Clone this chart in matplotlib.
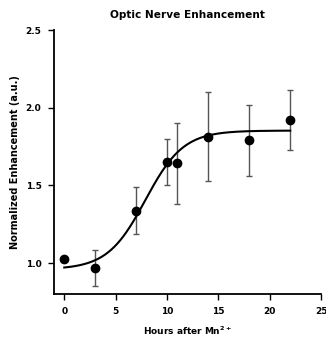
import numpy as np
import matplotlib
matplotlib.use("Agg")
import matplotlib.pyplot as plt

plt.rcParams['font.family'] = ['DejaVu Sans']

hours = [0, 3, 7, 10, 11, 14, 18, 22]
enhancement = [1.026, 0.968, 1.338, 1.650, 1.643, 1.814, 1.791, 1.921]
sem = [0.0, 0.117, 0.153, 0.146, 0.262, 0.286, 0.227, 0.190]

# Boltzmann sigmoid fit parameters
fit_bottom = 0.96
fit_top = 1.853
fit_v50 = 7.9
fit_slope = 1.85
fit_range = [0, 22]

title = "Optic Nerve Enhancement"
xlabel = "Hours after Mn$^{\\mathbf{2+}}$"
ylabel = "Normalized Enhancement (a.u.)"
xticks = [0, 5, 10, 15, 20, 25]
yticks = [1.0, 1.5, 2.0, 2.5]

fig = plt.figure(figsize=(3.26, 3.40), dpi=100)
ax = fig.add_axes([54/326, 1-294.3/340, (321-54)/326, (294.3-30)/340])

xf = np.linspace(fit_range[0], fit_range[1], 300)
yf = fit_bottom + (fit_top - fit_bottom) / (1 + np.exp((fit_v50 - xf) / fit_slope))
ax.plot(xf, yf, color='black', lw=1.5, zorder=2)

ax.errorbar(hours, enhancement, yerr=sem, fmt='none', ecolor='#555555',
            elinewidth=1.0, capsize=2, capthick=1.0, zorder=1)
ax.plot(hours, enhancement, 'o', color='black', markersize=6, zorder=3)

ax.set_xlim(-1, 25)
ax.set_ylim(0.8, 2.5)
ax.set_xticks(xticks)
ax.set_yticks(yticks)
ax.set_yticklabels([f"{v:.1f}" for v in yticks])
for s in ['top', 'right']:
    ax.spines[s].set_visible(False)
for s in ['left', 'bottom']:
    ax.spines[s].set_linewidth(1.3)
ax.tick_params(direction='out', length=4, width=1.0, labelsize=6.5, pad=5)
for lab in ax.get_xticklabels() + ax.get_yticklabels():
    lab.set_fontweight('bold')

ax.set_title(title, fontsize=7.6, fontweight='bold', pad=8.5)
ax.set_xlabel(xlabel, fontsize=6.5, fontweight='bold', labelpad=6)
ax.set_ylabel(ylabel, fontsize=7, fontweight='bold', labelpad=4)

fig.savefig("out.png", dpi=100)
